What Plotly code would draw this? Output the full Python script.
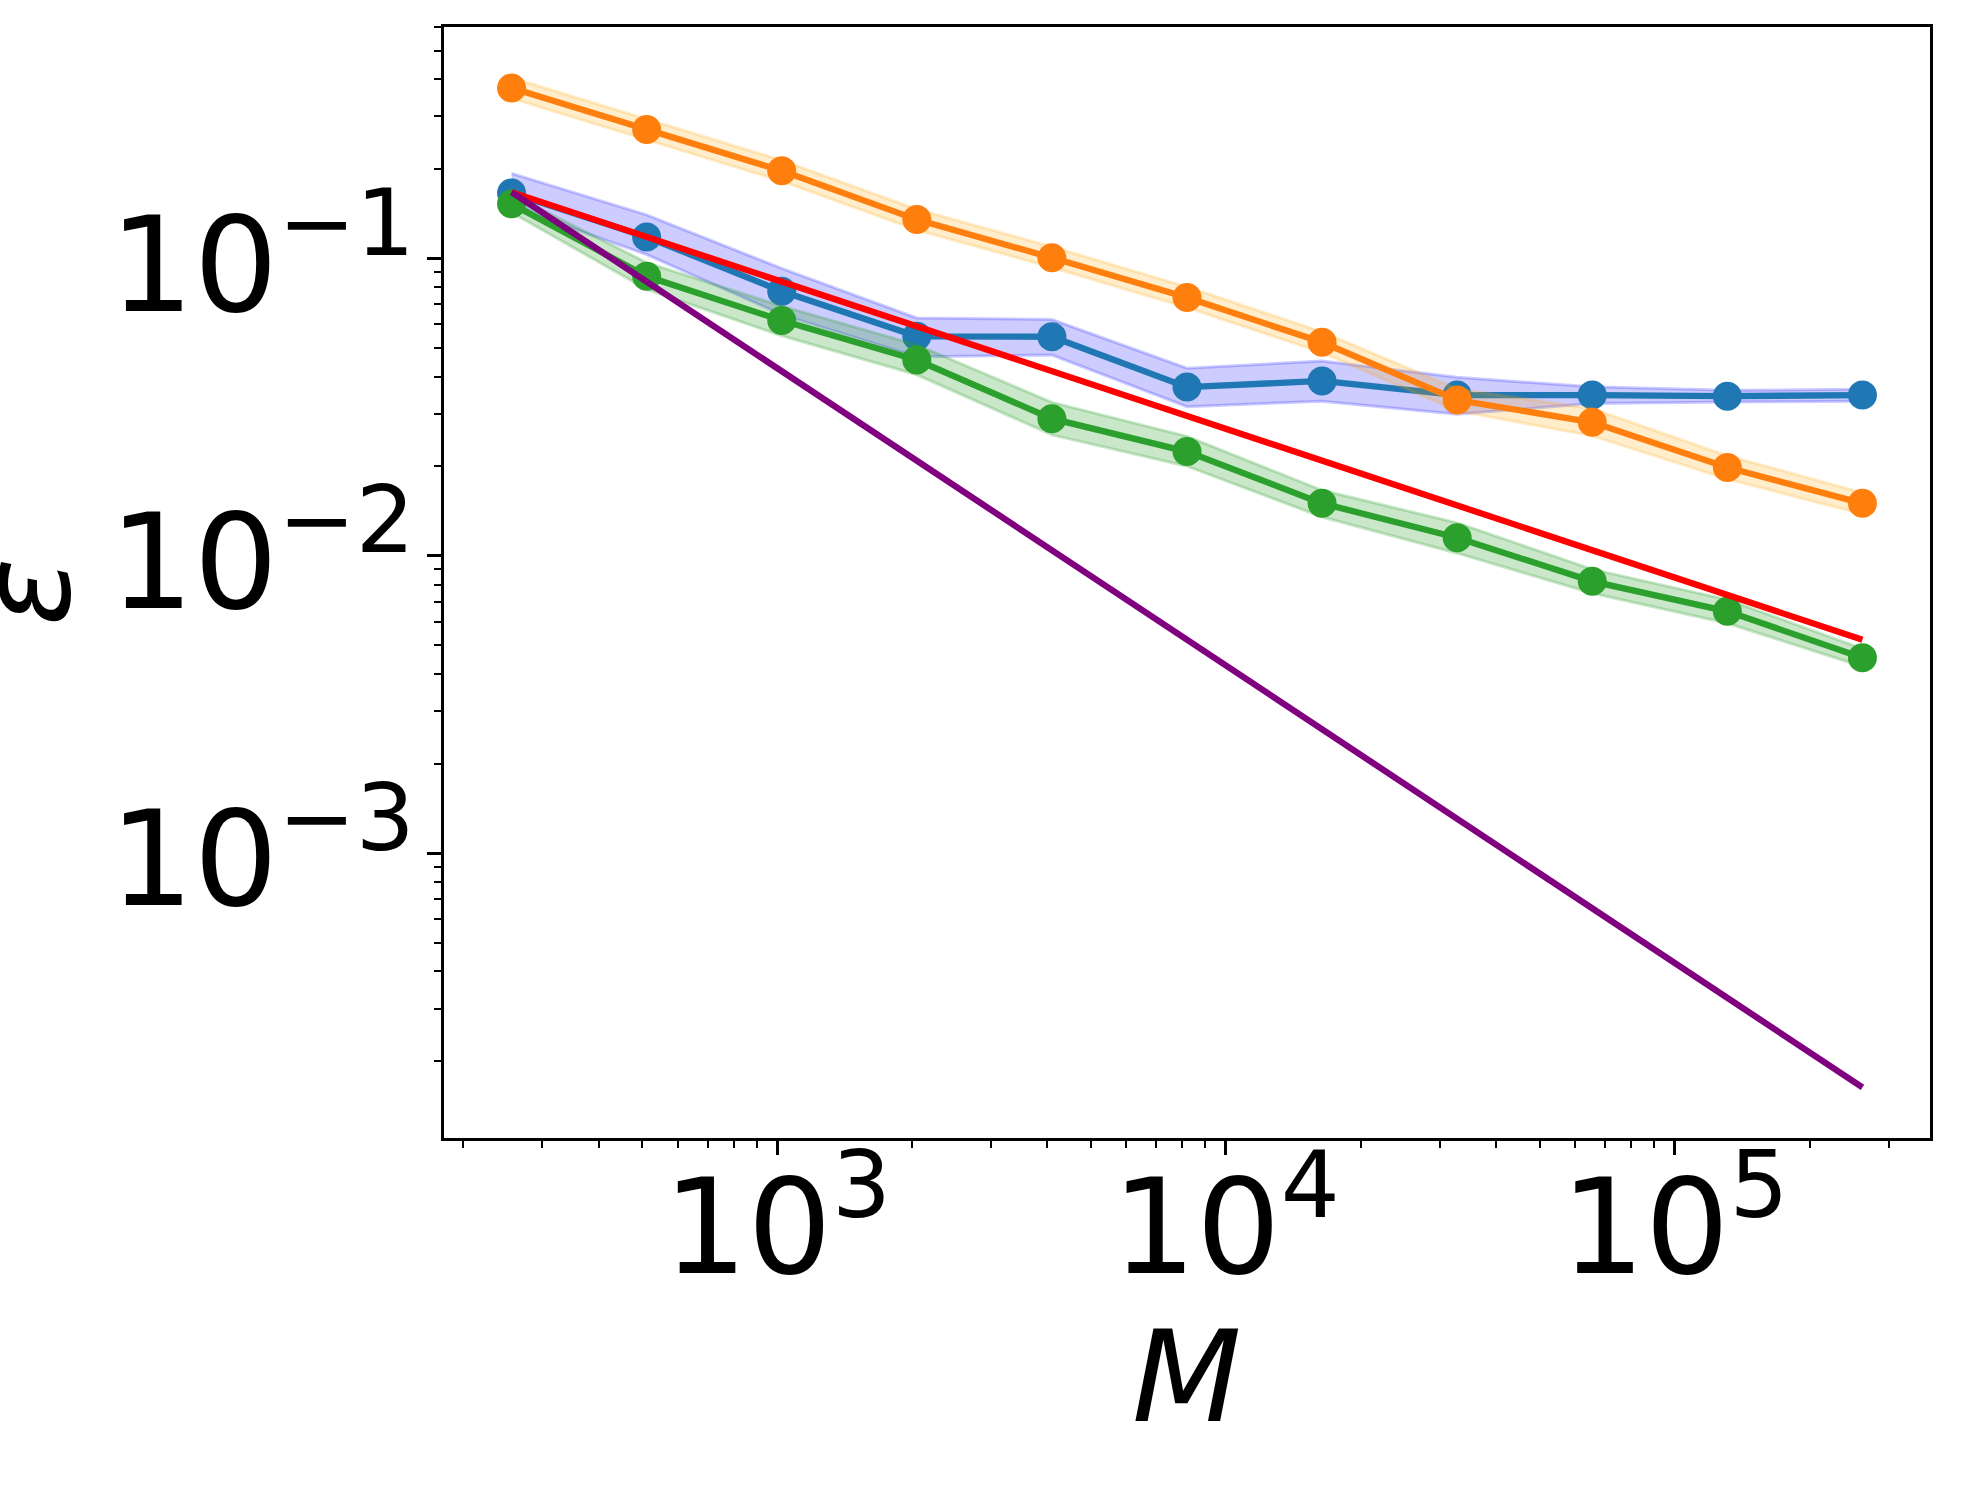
import plotly.graph_objects as go

M = [256, 512, 1024, 2048, 4096, 8192, 16384, 32768, 65536, 131072, 262144]

blue_y = [0.166, 0.118, 0.0775, 0.0547, 0.0545, 0.0369, 0.0387, 0.0347, 0.0347, 0.0344, 0.0347]
blue_hi = [0.193, 0.140, 0.0925, 0.0630, 0.0623, 0.0427, 0.0452, 0.0398, 0.0370, 0.0360, 0.0363]
blue_lo = [0.149, 0.103, 0.0647, 0.0467, 0.0473, 0.0317, 0.0331, 0.0299, 0.0325, 0.0329, 0.0331]

orange_y = [0.374, 0.271, 0.197, 0.135, 0.1005, 0.0738, 0.0522, 0.0334, 0.0281, 0.0198, 0.0150]
orange_hi = [0.405, 0.295, 0.2136, 0.1463, 0.1095, 0.0802, 0.0566, 0.0364, 0.0312, 0.0217, 0.0163]
orange_lo = [0.345, 0.251, 0.1818, 0.1246, 0.0932, 0.0683, 0.0482, 0.0307, 0.0253, 0.0181, 0.0138]

green_y = [0.1525, 0.0870, 0.0618, 0.0455, 0.0289, 0.0224, 0.0150, 0.0115, 0.0082, 0.0065, 0.00454]
green_hi = [0.164, 0.0968, 0.0691, 0.0512, 0.0328, 0.0252, 0.0166, 0.0129, 0.0090, 0.00712, 0.00487]
green_lo = [0.1427, 0.0787, 0.0549, 0.0406, 0.0255, 0.0200, 0.0135, 0.0102, 0.00748, 0.00593, 0.00424]

ref_x = [256, 262144]
red_y = [0.167, 0.00522]
purple_y = [0.167, 0.000163]

FONT = "DejaVu Sans"
fig = go.Figure()


def band(x, lo, hi, rgba):
    fig.add_trace(go.Scatter(x=x, y=lo, mode="lines", line=dict(color=rgba, width=3),
                             showlegend=False, hoverinfo="skip"))
    fig.add_trace(go.Scatter(x=x, y=hi, mode="lines", line=dict(color=rgba, width=3),
                             fill="tonexty", fillcolor=rgba, showlegend=False, hoverinfo="skip"))


def series(x, y, color):
    fig.add_trace(go.Scatter(x=x, y=y, mode="lines+markers",
                             line=dict(color=color, width=6.3),
                             marker=dict(color=color, size=29, line=dict(width=0)),
                             showlegend=False))


band(M, blue_lo, blue_hi, "rgba(0,0,255,0.2)")
series(M, blue_y, "#1f77b4")
band(M, orange_lo, orange_hi, "rgba(255,165,0,0.2)")
series(M, orange_y, "#ff7f0e")
band(M, green_lo, green_hi, "rgba(44,160,44,0.25)")
series(M, green_y, "#2ca02c")

fig.add_trace(go.Scatter(x=ref_x, y=red_y, mode="lines", line=dict(color="red", width=6.3),
                         showlegend=False))
fig.add_trace(go.Scatter(x=ref_x, y=purple_y, mode="lines", line=dict(color="purple", width=6.3),
                         showlegend=False))

axis_common = dict(
    type="log", showgrid=False, zeroline=False,
    showline=True, linecolor="black", linewidth=3, mirror=True,
    ticks="outside", ticklen=14, tickwidth=3, tickcolor="black",
    dtick=1, exponentformat="power",
    tickfont=dict(family=FONT, size=106, color="black"),
    minor=dict(ticks="outside", ticklen=7, tickwidth=2, tickcolor="black", dtick="D1", showgrid=False),
)

fig.update_xaxes(range=[2.2577, 5.5691], ticklabelstandoff=-36, **axis_common)
fig.update_yaxes(range=[-3.958, -0.222], ticklabelstandoff=-9, ticklabelshift=6, **axis_common)

fig.add_annotation(text="<i>M</i>", xref="paper", yref="paper", x=0.5, y=-0.215,
                   xanchor="center", yanchor="middle", showarrow=False,
                   font=dict(family=FONT, size=127, color="black"))
fig.add_annotation(text="<i>ε</i>", xref="paper", yref="paper", x=-0.282, y=0.492,
                   xanchor="center", yanchor="middle", showarrow=False, textangle=-90,
                   font=dict(family=FONT, size=127, color="black"))

fig.update_layout(
    width=1961, height=1486,
    margin=dict(l=444, r=31, t=27, b=348),
    paper_bgcolor="white", plot_bgcolor="white",
    font=dict(family=FONT, color="black"),
)

fig.write_html("out.html")
